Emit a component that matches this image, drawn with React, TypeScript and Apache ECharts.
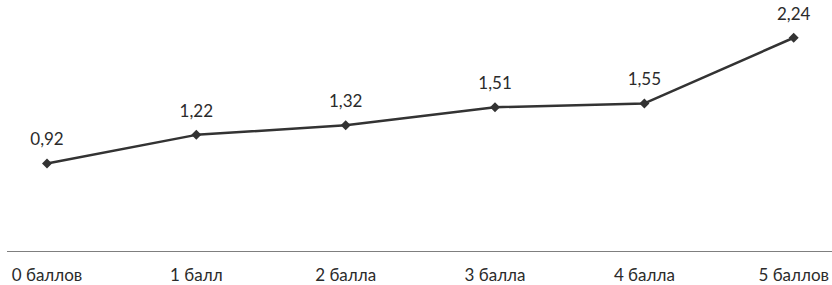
import React, { useEffect, useRef } from "react";
import * as echarts from "echarts";

const categories = ["0 баллов", "1 балл", "2 балла", "3 балла", "4 балла", "5 баллов"];
const values = [0.92, 1.22, 1.32, 1.51, 1.55, 2.24];

const FONT = "Lato, 'Open Sans', sans-serif";

export default function App() {
  const ref = useRef<HTMLDivElement>(null);
  useEffect(() => {
    if (!ref.current) return;
    const chart = echarts.init(ref.current, undefined, { renderer: "svg" });
    chart.setOption({
      animation: false,
      backgroundColor: "#ffffff",
      grid: { left: 47, right: 37, top: 13, bottom: 34 },
      xAxis: {
        type: "category",
        data: categories,
        boundaryGap: false,
        axisLine: { show: false },
        axisTick: { show: false },
        axisLabel: { color: "#2b2b2b", fontSize: 17, fontFamily: FONT, margin: 15 },
      },
      yAxis: { type: "value", min: 0, max: 2.5, show: false, splitLine: { show: false } },
      graphic: [
        {
          type: "line",
          shape: { x1: 7, y1: 251.5, x2: 832, y2: 251.5 },
          style: { stroke: "#7f7f7f", lineWidth: 1 },
          silent: true,
        },
      ],
      series: [
        {
          type: "line",
          data: values,
          symbol: "diamond",
          symbolSize: 10,
          lineStyle: { color: "#333333", width: 2.5 },
          itemStyle: { color: "#333333" },
          label: {
            show: true,
            position: "top",
            distance: 11,
            color: "#2b2b2b",
            fontSize: 17,
            fontFamily: FONT,
            formatter: (p: any) => String(p.value.toFixed(2)).replace(".", ","),
          },
        },
      ],
    });
    return () => chart.dispose();
  }, []);
  return <div ref={ref} style={{ width: 832, height: 285, position: "absolute", left: 0, top: 0 }} />;
}
